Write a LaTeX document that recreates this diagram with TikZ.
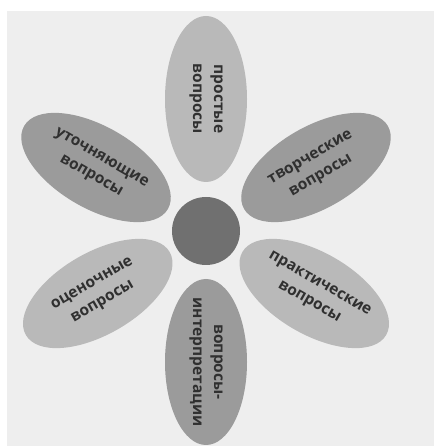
\documentclass[tikz,border=0pt]{standalone}
\usepackage{fontspec}
\setmainfont{Open Sans}
\usetikzlibrary{shapes.geometric,calc}
\definecolor{bgc}{HTML}{EEEEEE}
\definecolor{lightpetal}{HTML}{B9B9B9}
\definecolor{darkpetal}{HTML}{9B9B9B}
\definecolor{corec}{HTML}{707070}
\definecolor{txtc}{HTML}{303030}
\begin{document}
\begin{tikzpicture}[x=1pt,y=1pt,
  petal/.style={ellipse, minimum width=166pt, minimum height=82pt, inner sep=0pt, draw=none},
  lightp/.style={petal, fill=lightpetal},
  darkp/.style={petal, fill=darkpetal},
  ptext/.style={font=\fontsize{15.5}{21}\selectfont\bfseries, text=txtc, align=center, inner sep=0pt}]
\useasboundingbox (0,0) rectangle (434,446);
\fill[bgc] (7,0) rectangle (434,435);
\coordinate (c) at (206,215);
% petals
\node[lightp, rotate=90]  (top) at ($(c)+(90:132)$) {};
\node[darkp,  rotate=30]  (ur)  at ($(c)+(30:127)$) {};
\node[lightp, rotate=-30] (lr)  at ($(c)+(-30:125)$) {};
\node[darkp,  rotate=-90] (bot) at ($(c)+(-90:131)$) {};
\node[lightp, rotate=30]  (ll)  at ($(c)+(-150:125)$) {};
\node[darkp,  rotate=-30] (ul)  at ($(c)+(150:127)$) {};
% core
\node[circle, fill=corec, minimum size=68pt, inner sep=0pt] (core) at (c) {};
% labels
\node[ptext, rotate=-90] (ttop) at (top) {простые\\вопросы};
\node[ptext, rotate=30]  (tur)  at (ur)  {творческие\\вопросы};
\node[ptext, rotate=-30] (tlr)  at (lr)  {практические\\вопросы};
\node[ptext, rotate=-90] (tbot) at (bot) {вопросы-\\интерпретации};
\node[ptext, rotate=30]  (tll)  at (ll)  {оценочные\\вопросы};
\node[ptext, rotate=-30] (tul)  at (ul)  {уточняющие\\вопросы};
\end{tikzpicture}
\end{document}
